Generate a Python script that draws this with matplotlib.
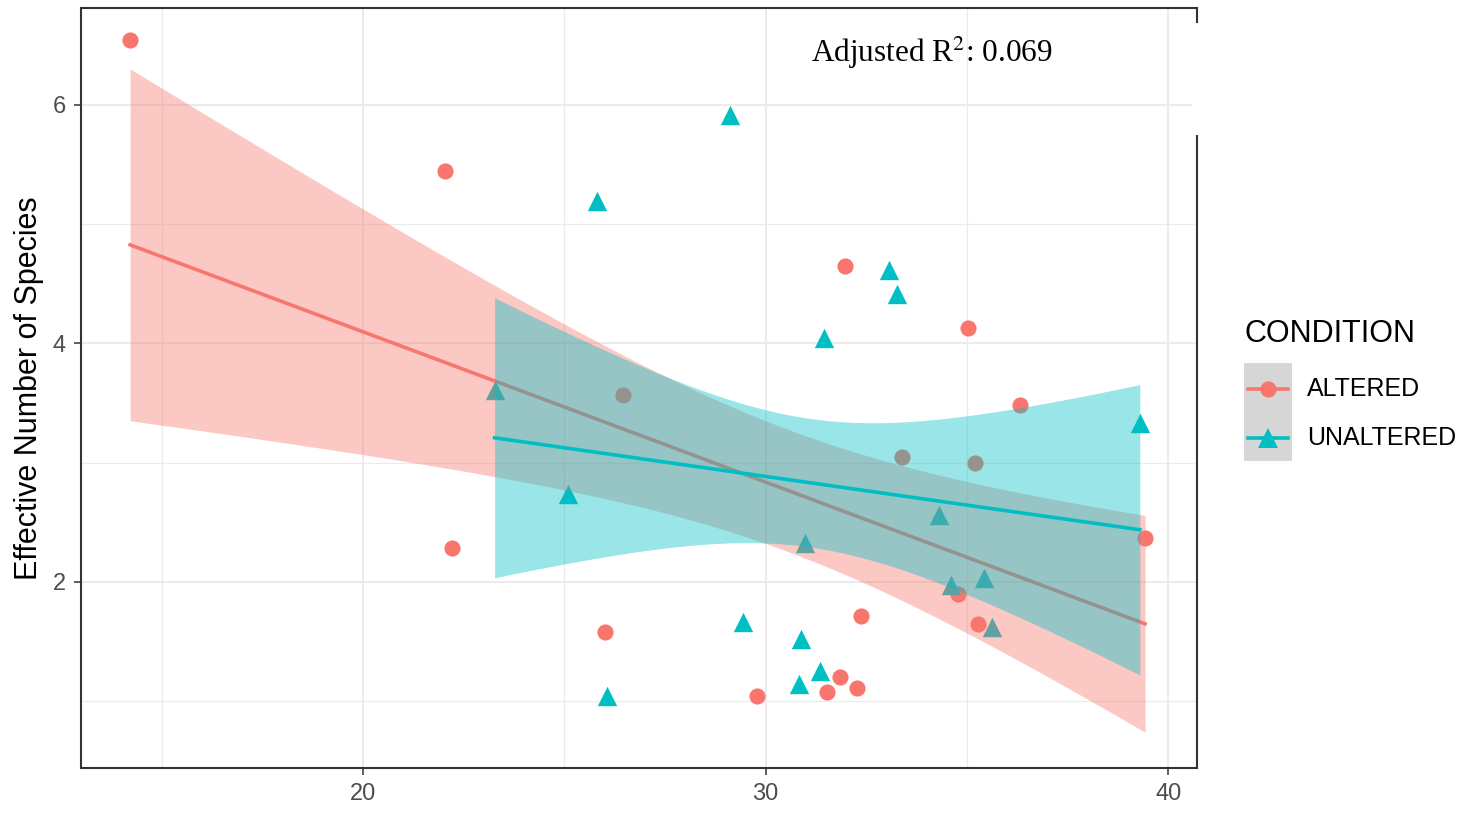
import numpy as np
import matplotlib
matplotlib.use("Agg")
import matplotlib.pyplot as plt
from matplotlib.patches import Rectangle
from matplotlib.lines import Line2D

plt.rcParams['font.family'] = ['Liberation Sans', 'DejaVu Sans']

# effective number of species by condition
altered_x = [14.22, 22.03, 22.22, 26.02, 26.47, 29.78, 31.52, 31.96, 31.84,
             32.26, 32.36, 33.38, 34.77, 35.02, 35.19, 35.27, 36.31, 39.42]
altered_y = [6.54, 5.44, 2.28, 1.58, 3.57, 1.04, 1.08, 4.65, 1.20,
             1.11, 1.71, 3.05, 1.90, 4.13, 3.00, 1.65, 3.48, 2.37]

unaltered_x = [23.27, 25.08, 25.80, 26.07, 29.11, 29.43, 30.87, 30.82, 30.97,
               31.34, 31.44, 33.06, 33.25, 34.30, 34.60, 35.42, 35.62, 39.29]
unaltered_y = [3.61, 2.74, 5.19, 1.04, 5.91, 1.66, 1.52, 1.14, 2.33,
               1.25, 4.04, 4.61, 4.41, 2.56, 1.97, 2.03, 1.62, 3.33]

groups = ["ALTERED", "UNALTERED"]
colors = {"ALTERED": "#F8766D", "UNALTERED": "#00BFC4"}
markers = {"ALTERED": "o", "UNALTERED": "^"}
sizes = {"ALTERED": 135, "UNALTERED": 195}
data = {"ALTERED": (altered_x, altered_y), "UNALTERED": (unaltered_x, unaltered_y)}
adj_r2 = 0.069


def lm_band(x, y, n=80, t=1.5):
    # OLS fit with confidence band of half-width t * se(fit)
    x = np.asarray(x); y = np.asarray(y)
    b1, b0 = np.polyfit(x, y, 1)
    resid = y - (b0 + b1 * x)
    s = np.sqrt(np.sum(resid ** 2) / (len(x) - 2))
    xs = np.linspace(x.min(), x.max(), n)
    se = s * np.sqrt(1 / len(x) + (xs - x.mean()) ** 2 / np.sum((x - x.mean()) ** 2))
    fit = b0 + b1 * xs
    return xs, fit, fit - t * se, fit + t * se


fig = plt.figure(figsize=(14.79, 8.13), dpi=100)
ax = fig.add_axes([81 / 1479, 1 - 768 / 813, (1197 - 81) / 1479, (768 - 8) / 813])

for g in groups:
    gx, gy = data[g]
    ax.scatter(gx, gy, s=sizes[g], marker=markers[g], color=colors[g],
               linewidths=0, zorder=2)

z = 3
for g in groups:
    gx, gy = data[g]
    xs, fit, lo, hi = lm_band(gx, gy)
    ax.fill_between(xs, lo, hi, color=colors[g], alpha=0.4, linewidth=0, zorder=z)
    ax.plot(xs, fit, color=colors[g], lw=2.6, zorder=z + 1)
    z += 2

ax.set_xlim(13.0, 40.71)
ax.set_ylim(0.44, 6.81)
ax.set_xticks([20, 30, 40])
ax.set_yticks([2, 4, 6])
ax.set_xticks([15, 25, 35], minor=True)
ax.set_yticks([1, 3, 5], minor=True)
ax.grid(which='major', color='#EBEBEB', lw=1.4, zorder=0)
ax.grid(which='minor', color='#EBEBEB', lw=0.9, zorder=0)
ax.set_axisbelow(True)
ax.tick_params(which='major', length=5, width=1.1, color='#333333',
               labelsize=17, labelcolor='#4D4D4D', pad=6)
ax.tick_params(which='minor', length=0)
for sp in ax.spines.values():
    sp.set_color('#333333')
    sp.set_linewidth(1.5)

ax.set_ylabel("Effective Number of Species", fontsize=22, labelpad=6)

plt.rcParams['mathtext.fontset'] = 'stix'
ax.text(0.654, 0.941, "Adjusted R$^{2}$: %.3f" % adj_r2, transform=ax.transAxes,
        fontsize=22.5, family='Liberation Serif', va='center', ha='left')

# white patch over the right border next to the annotation
fig.add_artist(Rectangle((1192 / 1479, 1 - 135 / 813), 10 / 1479, 112 / 813,
                         transform=fig.transFigure, facecolor='white',
                         edgecolor='none', zorder=10))

# legend drawn by hand: grey key column with line + marker per group
def fx(px):
    return px / 1479


def fy(py):
    return 1 - py / 813


fig.text(fx(1244), fy(334), "CONDITION", fontsize=22, va='center', ha='left')
fig.add_artist(Rectangle((fx(1244), fy(461)), fx(48), 98 / 813,
                         transform=fig.transFigure, facecolor='#D6D6D6',
                         edgecolor='none'))
rows = {"ALTERED": 389, "UNALTERED": 438}
for g in groups:
    yy = fy(rows[g])
    fig.add_artist(Line2D([fx(1248), fx(1288)], [yy, yy], transform=fig.transFigure,
                          color=colors[g], lw=2.6))
    fig.add_artist(Line2D([fx(1268)], [yy], transform=fig.transFigure,
                          marker=markers[g], color=colors[g], markeredgewidth=0,
                          markersize=np.sqrt(sizes[g]), linestyle='none'))
    fig.text(fx(1307), yy, g, fontsize=18, va='center', ha='left')

fig.savefig("out.png", dpi=100)
